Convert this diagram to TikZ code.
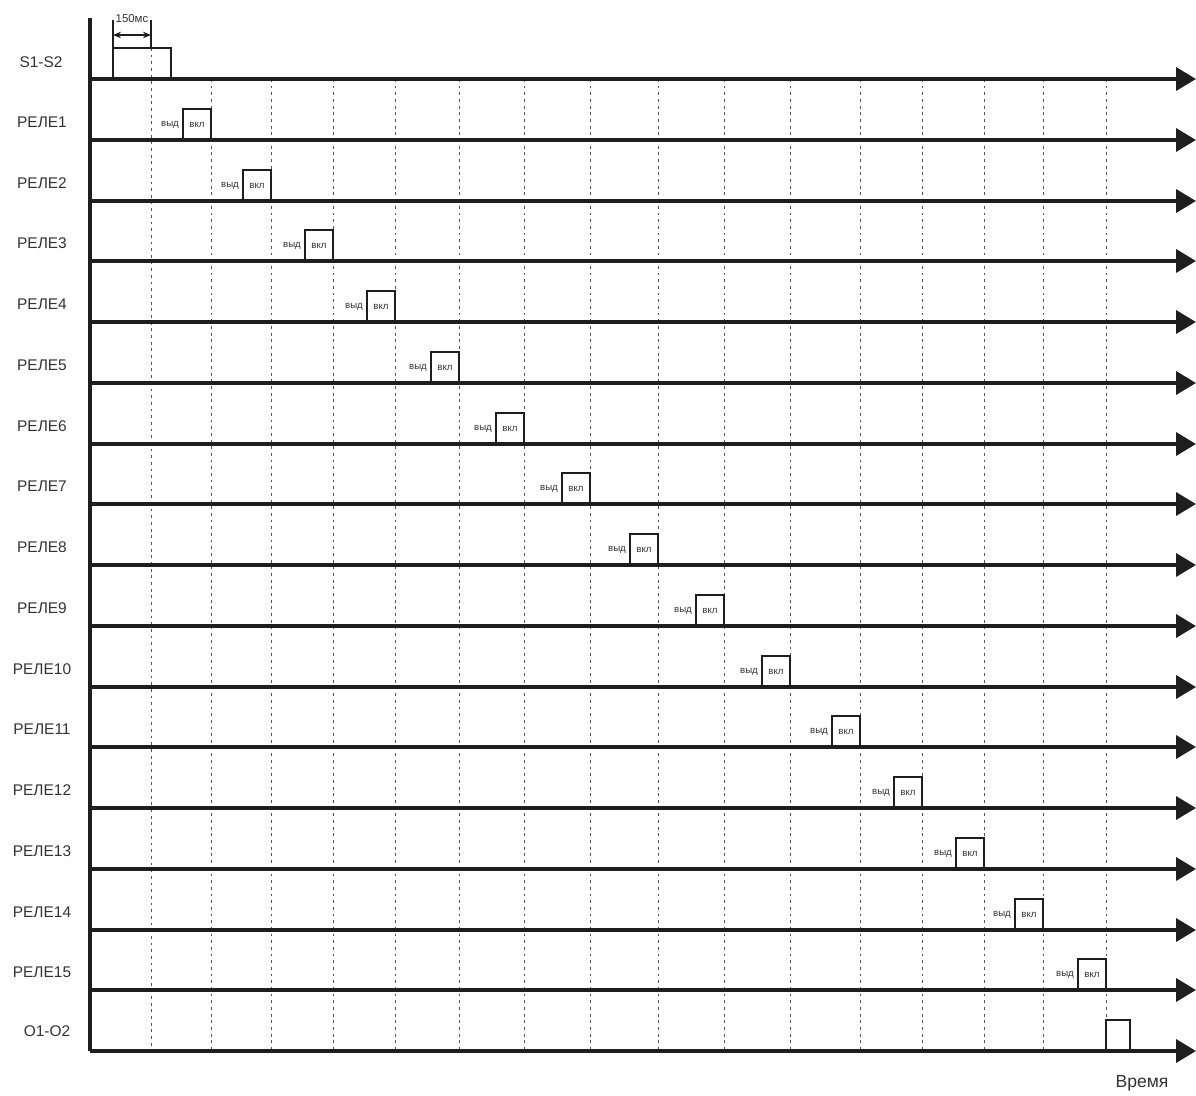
\documentclass[tikz,border=0pt]{standalone}
\usepackage{fontspec}
\setmainfont{Liberation Sans}
\usepackage{tikz}
\usetikzlibrary{arrows.meta}
\definecolor{ink}{HTML}{1E1E1E}
\definecolor{lbltext}{HTML}{333333}
\definecolor{gridgray}{HTML}{555555}

\begin{document}
\begin{tikzpicture}[x=0.02cm, y=-0.02cm, font=\fontsize{8.8}{10}\selectfont]

% pixel grid of the timing chart: x to the right, y downwards
\tikzset{
  axisln/.style={draw=ink, line width=2.1pt, -{Triangle[length=0.4cm, width=0.46cm]}},
  yaxisln/.style={draw=ink, line width=2.1pt},
  pulseln/.style={draw=ink, line width=1.4pt},
  gridln/.style={draw=gridgray, line width=0.55pt, dash pattern=on 1.6pt off 2.2pt},
  dimln/.style={draw=ink, line width=0.6pt},
  rowlbl/.style={text=lbltext, inner sep=0pt},
  offlbl/.style={text=lbltext, inner sep=0pt, font=\fontsize{5.5}{6}\selectfont},
  onlbl/.style={text=lbltext, inner sep=0pt, font=\fontsize{5.5}{6}\selectfont}}

\useasboundingbox (0,0) rectangle (1196,1095);

% time marks (dashed)
\draw[gridln] (151,48) -- (151,1051)  (211,79) -- (211,1051)  (271,79) -- (271,1051)
  (333,79) -- (333,1051)  (395,79) -- (395,1051)  (459,79) -- (459,1051)
  (524,79) -- (524,1051)  (590,79) -- (590,1051)  (658,79) -- (658,1051)
  (724,79) -- (724,1051)  (790,79) -- (790,1051)  (860,79) -- (860,1051)
  (922,79) -- (922,1051)  (984,79) -- (984,1051)  (1043,79) -- (1043,1051)
  (1106,79) -- (1106,1051);

% vertical axis
\coordinate (ytop) at (90,18);
\coordinate (ybot) at (90,1051);
\draw[yaxisln] (ytop) -- (ybot);

% 150 ms dimension
\coordinate (d1) at (113,35);
\coordinate (d2) at (151,35);
\draw[dimln] (113,20) -- (113,48)  (151,20) -- (151,48);
\draw[dimln, {Stealth[length=1.6mm, width=1.3mm]}-{Stealth[length=1.6mm, width=1.3mm]}] (d1) -- (d2);
\node[rowlbl, font=\fontsize{6.5}{7}\selectfont] (dimtxt) at (132,19) {150мс};

% row S1-S2
\node[rowlbl] (s12) at (41,62) {S1-S2};
\draw[pulseln] (113,79) |- (171,48) -- (171,79);
\draw[axisln] (90,79) -- (1196,79);

% row 1
\node[rowlbl] (r1) at (42,122) {РЕЛЕ1};
\draw[pulseln] (183,140) |- (211,109) -- (211,140);
\node[offlbl] (r1off) at (170,125) {выд};  \node[onlbl] (r1on) at (197,125) {вкл};
\draw[axisln] (90,140) -- (1196,140);

% row 2
\node[rowlbl] (r2) at (42,183) {РЕЛЕ2};
\draw[pulseln] (243,201) |- (271,170) -- (271,201);
\node[offlbl] (r2off) at (230,186) {выд};  \node[onlbl] (r2on) at (257,186) {вкл};
\draw[axisln] (90,201) -- (1196,201);

% row 3
\node[rowlbl] (r3) at (42,243) {РЕЛЕ3};
\draw[pulseln] (305,261) |- (333,230) -- (333,261);
\node[offlbl] (r3off) at (292,246) {выд};  \node[onlbl] (r3on) at (319,246) {вкл};
\draw[axisln] (90,261) -- (1196,261);

% row 4
\node[rowlbl] (r4) at (42,304) {РЕЛЕ4};
\draw[pulseln] (367,322) |- (395,291) -- (395,322);
\node[offlbl] (r4off) at (354,307) {выд};  \node[onlbl] (r4on) at (381,307) {вкл};
\draw[axisln] (90,322) -- (1196,322);

% row 5
\node[rowlbl] (r5) at (42,365) {РЕЛЕ5};
\draw[pulseln] (431,383) |- (459,352) -- (459,383);
\node[offlbl] (r5off) at (418,368) {выд};  \node[onlbl] (r5on) at (445,368) {вкл};
\draw[axisln] (90,383) -- (1196,383);

% row 6
\node[rowlbl] (r6) at (42,426) {РЕЛЕ6};
\draw[pulseln] (496,444) |- (524,413) -- (524,444);
\node[offlbl] (r6off) at (483,429) {выд};  \node[onlbl] (r6on) at (510,429) {вкл};
\draw[axisln] (90,444) -- (1196,444);

% row 7
\node[rowlbl] (r7) at (42,486) {РЕЛЕ7};
\draw[pulseln] (562,504) |- (590,473) -- (590,504);
\node[offlbl] (r7off) at (549,489) {выд};  \node[onlbl] (r7on) at (576,489) {вкл};
\draw[axisln] (90,504) -- (1196,504);

% row 8
\node[rowlbl] (r8) at (42,547) {РЕЛЕ8};
\draw[pulseln] (630,565) |- (658,534) -- (658,565);
\node[offlbl] (r8off) at (617,550) {выд};  \node[onlbl] (r8on) at (644,550) {вкл};
\draw[axisln] (90,565) -- (1196,565);

% row 9
\node[rowlbl] (r9) at (42,608) {РЕЛЕ9};
\draw[pulseln] (696,626) |- (724,595) -- (724,626);
\node[offlbl] (r9off) at (683,611) {выд};  \node[onlbl] (r9on) at (710,611) {вкл};
\draw[axisln] (90,626) -- (1196,626);

% row 10
\node[rowlbl] (r10) at (42,669) {РЕЛЕ10};
\draw[pulseln] (762,687) |- (790,656) -- (790,687);
\node[offlbl] (r10off) at (749,672) {выд};  \node[onlbl] (r10on) at (776,672) {вкл};
\draw[axisln] (90,687) -- (1196,687);

% row 11
\node[rowlbl] (r11) at (42,729) {РЕЛЕ11};
\draw[pulseln] (832,747) |- (860,716) -- (860,747);
\node[offlbl] (r11off) at (819,732) {выд};  \node[onlbl] (r11on) at (846,732) {вкл};
\draw[axisln] (90,747) -- (1196,747);

% row 12
\node[rowlbl] (r12) at (42,790) {РЕЛЕ12};
\draw[pulseln] (894,808) |- (922,777) -- (922,808);
\node[offlbl] (r12off) at (881,793) {выд};  \node[onlbl] (r12on) at (908,793) {вкл};
\draw[axisln] (90,808) -- (1196,808);

% row 13
\node[rowlbl] (r13) at (42,851) {РЕЛЕ13};
\draw[pulseln] (956,869) |- (984,838) -- (984,869);
\node[offlbl] (r13off) at (943,854) {выд};  \node[onlbl] (r13on) at (970,854) {вкл};
\draw[axisln] (90,869) -- (1196,869);

% row 14
\node[rowlbl] (r14) at (42,912) {РЕЛЕ14};
\draw[pulseln] (1015,930) |- (1043,899) -- (1043,930);
\node[offlbl] (r14off) at (1002,915) {выд};  \node[onlbl] (r14on) at (1029,915) {вкл};
\draw[axisln] (90,930) -- (1196,930);

% row 15
\node[rowlbl] (r15) at (42,972) {РЕЛЕ15};
\draw[pulseln] (1078,990) |- (1106,959) -- (1106,990);
\node[offlbl] (r15off) at (1065,975) {выд};  \node[onlbl] (r15on) at (1092,975) {вкл};
\draw[axisln] (90,990) -- (1196,990);

% row O1-O2
\node[rowlbl] (o12) at (47,1031) {O1-O2};
\draw[pulseln] (1106,1051) |- (1130,1020) -- (1130,1051);
\draw[axisln] (ybot) -- (1196,1051);

% time label
\node[rowlbl, font=\fontsize{10}{11}\selectfont] (tlbl) at (1142,1083) {Время};

\end{tikzpicture}
\end{document}
